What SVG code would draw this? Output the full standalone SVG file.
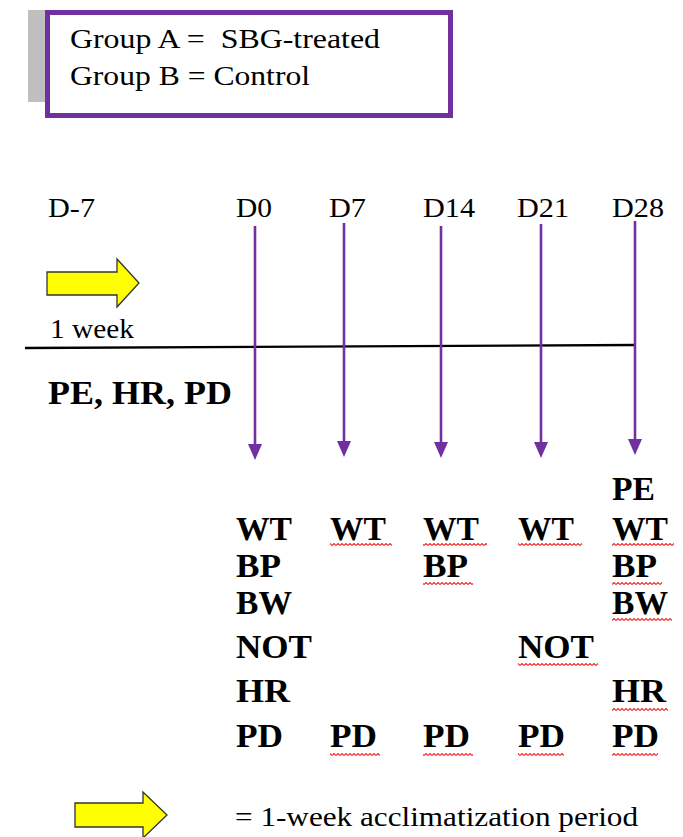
<svg xmlns="http://www.w3.org/2000/svg" width="683" height="837" viewBox="0 0 683 837">
<style>
.t{font-family:"Liberation Serif","Times New Roman",serif;font-size:27px;fill:#000}
.b{font-family:"Liberation Serif","Times New Roman",serif;font-size:33px;font-weight:bold;fill:#000}
.v{stroke:#7030A0;stroke-width:2.6;fill:none}
.ya{fill:#FFFF00;stroke:#333;stroke-width:1.3;stroke-linejoin:miter}
.sq{fill:url(#squig)}
</style>
<defs>
<marker id="ah" markerUnits="userSpaceOnUse" markerWidth="16" markerHeight="14" viewBox="0 0 16 14" refX="1" refY="7" orient="auto">
<path d="M0,0 L16,7 L0,14 z" fill="#7030A0"/>
</marker>
<pattern id="squig" patternUnits="userSpaceOnUse" width="4" height="3">
<path d="M0,2.5 L2,0.5 L4,2.5" fill="none" stroke="#F03030" stroke-width="1.2"/>
</pattern>
</defs>
<rect width="683" height="837" fill="#fff"/>

<g id="legend-box">
<rect x="28" y="10" width="18" height="92" fill="#BFBFBF"/>
<rect x="47.5" y="12.5" width="403" height="103" fill="#fff" stroke="#7030A0" stroke-width="5"/>
<text class="t" x="70" y="48" xml:space="preserve" textLength="310" lengthAdjust="spacingAndGlyphs">Group A =  SBG-treated</text>
<text class="t" x="70" y="85" textLength="240" lengthAdjust="spacingAndGlyphs">Group B = Control</text>
</g>

<g id="day-labels">
<text class="t" x="48" y="217" textLength="47" lengthAdjust="spacingAndGlyphs">D-7</text>
<text class="t" x="236" y="217" textLength="36" lengthAdjust="spacingAndGlyphs">D0</text>
<text class="t" x="329" y="217" textLength="37" lengthAdjust="spacingAndGlyphs">D7</text>
<text class="t" x="423" y="217" textLength="52" lengthAdjust="spacingAndGlyphs">D14</text>
<text class="t" x="517" y="217" textLength="52" lengthAdjust="spacingAndGlyphs">D21</text>
<text class="t" x="612" y="217" textLength="52" lengthAdjust="spacingAndGlyphs">D28</text>
</g>

<g id="acclimatization-arrow">
<polygon class="ya" points="47,272 117,272 117,259 139,283 117,307 117,295 47,295"/>
<text class="t" x="50" y="338" textLength="84" lengthAdjust="spacingAndGlyphs">1 week</text>
</g>

<g id="timeline">
<line x1="25" y1="348" x2="635" y2="345" stroke="#000" stroke-width="2.4"/>
</g>

<g id="baseline-measures">
<text class="b" x="48" y="404" textLength="184" lengthAdjust="spacingAndGlyphs">PE, HR, PD</text>
</g>

<g id="connectors">
<line class="v" x1="255" y1="226" x2="255" y2="445" marker-end="url(#ah)"/>
<line class="v" x1="344" y1="223" x2="344" y2="442" marker-end="url(#ah)"/>
<line class="v" x1="441" y1="226" x2="441" y2="443" marker-end="url(#ah)"/>
<line class="v" x1="541" y1="224" x2="541" y2="443" marker-end="url(#ah)"/>
<line class="v" x1="635" y1="221" x2="635" y2="440" marker-end="url(#ah)"/>
</g>

<g id="col-D0">
<text class="b" x="236" y="540" textLength="56" lengthAdjust="spacingAndGlyphs">WT</text>
<text class="b" x="236" y="577" textLength="45" lengthAdjust="spacingAndGlyphs">BP</text>
<text class="b" x="236" y="614" textLength="56" lengthAdjust="spacingAndGlyphs">BW</text>
<text class="b" x="236" y="658" textLength="76" lengthAdjust="spacingAndGlyphs">NOT</text>
<text class="b" x="236" y="702" textLength="54" lengthAdjust="spacingAndGlyphs">HR</text>
<text class="b" x="236" y="747" textLength="47" lengthAdjust="spacingAndGlyphs">PD</text>
</g>

<g id="col-D7">
<text class="b" x="330" y="540" textLength="56" lengthAdjust="spacingAndGlyphs">WT</text>
<text class="b" x="330" y="747" textLength="47" lengthAdjust="spacingAndGlyphs">PD</text>
</g>

<g id="col-D14">
<text class="b" x="423" y="540" textLength="56" lengthAdjust="spacingAndGlyphs">WT</text>
<text class="b" x="423" y="577" textLength="45" lengthAdjust="spacingAndGlyphs">BP</text>
<text class="b" x="423" y="747" textLength="47" lengthAdjust="spacingAndGlyphs">PD</text>
</g>

<g id="col-D21">
<text class="b" x="518" y="540" textLength="56" lengthAdjust="spacingAndGlyphs">WT</text>
<text class="b" x="518" y="658" textLength="76" lengthAdjust="spacingAndGlyphs">NOT</text>
<text class="b" x="518" y="747" textLength="47" lengthAdjust="spacingAndGlyphs">PD</text>
</g>

<g id="col-D28">
<text class="b" x="612" y="500" textLength="43" lengthAdjust="spacingAndGlyphs">PE</text>
<text class="b" x="612" y="540" textLength="56" lengthAdjust="spacingAndGlyphs">WT</text>
<text class="b" x="612" y="577" textLength="45" lengthAdjust="spacingAndGlyphs">BP</text>
<text class="b" x="612" y="614" textLength="56" lengthAdjust="spacingAndGlyphs">BW</text>
<text class="b" x="612" y="702" textLength="54" lengthAdjust="spacingAndGlyphs">HR</text>
<text class="b" x="612" y="747" textLength="47" lengthAdjust="spacingAndGlyphs">PD</text>
</g>

<g id="spellcheck-underlines">
<rect class="sq" x="330" y="543" width="62" height="3"/>
<rect class="sq" x="423" y="543" width="64" height="3"/>
<rect class="sq" x="518" y="543" width="64" height="3"/>
<rect class="sq" x="612" y="543" width="62" height="3"/>
<rect class="sq" x="423" y="582" width="50" height="3"/>
<rect class="sq" x="612" y="582" width="50" height="3"/>
<rect class="sq" x="612" y="618" width="60" height="3"/>
<rect class="sq" x="518" y="663" width="80" height="3"/>
<rect class="sq" x="612" y="708" width="56" height="3"/>
<rect class="sq" x="330" y="753" width="50" height="3"/>
<rect class="sq" x="423" y="753" width="50" height="3"/>
<rect class="sq" x="518" y="753" width="46" height="3"/>
<rect class="sq" x="612" y="753" width="46" height="3"/>
</g>

<g id="legend-arrow">
<polygon class="ya" points="75,803 143,803 143,792 167,815 143,838 143,827 75,827"/>
<text class="t" x="235" y="826" textLength="403" lengthAdjust="spacingAndGlyphs">= 1-week acclimatization period</text>
</g>
</svg>
